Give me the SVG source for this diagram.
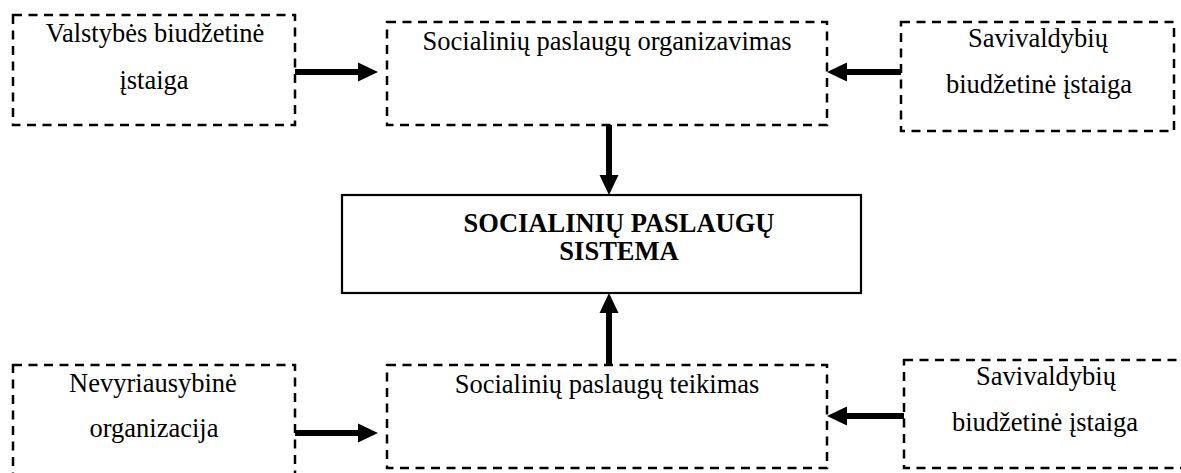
<svg xmlns="http://www.w3.org/2000/svg" width="1181" height="473" viewBox="0 0 1181 473">
<style>
.dash{fill:none;stroke:#000;stroke-width:2.5;stroke-dasharray:9 6.5}
.solid{fill:#fff;stroke:#000;stroke-width:2.2}
.t{font-family:'Liberation Serif',Tinos,'Times New Roman','DejaVu Serif',serif;font-size:26.5px;fill:#000;text-anchor:middle}
.b{font-weight:bold}
.arr{stroke:#000;stroke-width:6;fill:none;marker-end:url(#ah)}
</style>
<defs>
<marker id="ah" markerUnits="userSpaceOnUse" markerWidth="20" markerHeight="19" refX="0" refY="9.5" orient="auto" overflow="visible">
<path d="M0,0 L20,9.5 L0,19 Z" fill="#000"/>
</marker>
</defs>
<rect width="1181" height="473" fill="#fff"/>
<g id="n-valstybes">
<rect class="dash" x="13" y="15" width="282" height="110"/>
<text class="t" x="155" y="42">Valstybės biudžetinė</text>
<text class="t" x="154" y="89">įstaiga</text>
</g>
<g id="n-organizavimas">
<rect class="dash" x="387" y="22" width="440" height="103"/>
<text class="t" x="607" y="50">Socialinių paslaugų organizavimas</text>
</g>
<g id="n-savivaldybiu-top">
<rect class="dash" x="901" y="22" width="273" height="109"/>
<text class="t" x="1038" y="47">Savivaldybių</text>
<text class="t" x="1039" y="93">biudžetinė įstaiga</text>
</g>
<g id="n-sistema">
<rect class="solid" x="342" y="195" width="519" height="98"/>
<text class="t b" x="619" y="232">SOCIALINIŲ PASLAUGŲ</text>
<text class="t b" x="619" y="260">SISTEMA</text>
</g>
<g id="n-nevyriausybine">
<rect class="dash" x="13" y="365" width="282" height="125"/>
<text class="t" x="153" y="392">Nevyriausybinė</text>
<text class="t" x="154" y="437">organizacija</text>
</g>
<g id="n-teikimas">
<rect class="dash" x="387" y="365" width="440" height="103"/>
<text class="t" x="607" y="393">Socialinių paslaugų teikimas</text>
</g>
<g id="n-savivaldybiu-bottom">
<rect class="dash" x="904" y="360" width="290" height="108"/>
<text class="t" x="1046" y="385">Savivaldybių</text>
<text class="t" x="1045" y="431">biudžetinė įstaiga</text>
</g>
<g id="connectors">
<line class="arr" x1="295" y1="72" x2="358" y2="72"/>
<line class="arr" x1="901" y1="72" x2="847" y2="72"/>
<line class="arr" x1="609" y1="125" x2="609" y2="175"/>
<line class="arr" x1="609" y1="365" x2="609" y2="313"/>
<line class="arr" x1="295" y1="433" x2="358" y2="433"/>
<line class="arr" x1="904" y1="416" x2="847" y2="416"/>
</g>
</svg>
